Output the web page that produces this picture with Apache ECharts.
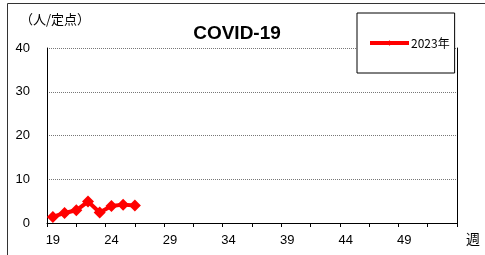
<!DOCTYPE html>
<html>
<head>
<meta charset="utf-8">
<script src="https://cdn.jsdelivr.net/npm/echarts@6/dist/echarts.min.js"></script>
<style>
  html, body { margin: 0; padding: 0; background: #fff; }
  #chart { width: 485px; height: 255px; }
</style>
</head>
<body>
<div id="chart"></div>
<script>
// 週と定点当たり報告数
const weeks = [19, 20, 21, 22, 23, 24, 25, 26]
const values2023 = [1.4, 2.3, 2.9, 4.9, 2.4, 3.9, 4.2, 4.0]
const xTickValues = [18.5, 21, 23.5, 26, 28.5, 31, 33.5, 36, 38.5, 41, 43.5, 46, 48.5, 51, 53.5]
const xLabelValues = [19, 24, 29, 34, 39, 44, 49]
const seriesName = '2023年'

const chart = echarts.init(document.getElementById('chart'))

const numFont = 'Liberation Sans, Arial, sans-serif'
const jpFont = 'Noto Sans CJK JP, sans-serif'

const option = {
  backgroundColor: '#fff',
  animation: false,
  title: {
    text: 'COVID-19',
    left: 232,
    top: 19,
    textAlign: 'center',
    textStyle: { fontSize: 19, fontWeight: 'bold', color: '#000', fontFamily: numFont }
  },
  legend: {
    data: [seriesName],
    left: 357,
    top: 13,
    orient: 'vertical',
    backgroundColor: '#fff',
    borderColor: '#000',
    borderWidth: 1,
    borderRadius: 0,
    padding: [24, 5, 24, 11],
    itemWidth: 39,
    itemHeight: 7,
    itemGap: 0,
    lineStyle: { width: 4, color: '#ff0000' },
    itemStyle: { color: '#ff0000' },
    textStyle: { fontSize: 12, color: '#000', fontFamily: jpFont, padding: [0, 0, 0, -3] }
  },
  grid: {
    left: 47,
    right: 28,
    top: 48,
    bottom: 32,
    containLabel: false
  },
  xAxis: {
    type: 'value',
    min: 18.5,
    max: 53.5,
    axisLine: { show: true, onZero: false, lineStyle: { color: '#000', width: 1 } },
    axisTick: {
      show: true,
      inside: false,
      length: 4,
      customValues: xTickValues,
      lineStyle: { color: '#000' }
    },
    axisLabel: {
      customValues: xLabelValues,
      margin: 11,
      fontSize: 13,
      color: '#000',
      fontFamily: numFont
    },
    splitLine: { show: false }
  },
  yAxis: [
    {
      type: 'value',
      min: 0,
      max: 40,
      interval: 10,
      axisLine: { show: true, lineStyle: { color: '#000', width: 1 } },
      axisTick: { show: false },
      axisLabel: { margin: 17, fontSize: 13, color: '#000', fontFamily: numFont },
      splitLine: { show: true, lineStyle: { color: '#777', type: [1, 1], width: 1 } }
    },
    {
      type: 'value',
      min: 0,
      max: 40,
      position: 'right',
      axisLine: { show: true, lineStyle: { color: '#000', width: 1 } },
      axisTick: { show: false },
      axisLabel: { show: false },
      splitLine: { show: false }
    }
  ],
  graphic: [
    {
      type: 'rect',
      shape: { x: 7.5, y: 3.5, width: 500, height: 300 },
      style: { fill: 'none', stroke: '#333', lineWidth: 1 },
      z: -1
    },
    {
      type: 'text',
      left: 20,
      top: 13,
      style: { text: '（人/定点）', fontSize: 13, fill: '#000', fontFamily: jpFont }
    },
    {
      type: 'text',
      left: 466,
      top: 232,
      style: { text: '週', fontSize: 14, fill: '#000', fontFamily: jpFont }
    }
  ],
  series: [
    {
      name: seriesName,
      type: 'line',
      data: weeks.map((w, i) => [w, values2023[i]]),
      symbol: 'diamond',
      symbolSize: 12,
      lineStyle: { color: '#ff0000', width: 4 },
      itemStyle: { color: '#ff0000' }
    }
  ]
}

chart.setOption(option)
</script>
</body>
</html>
